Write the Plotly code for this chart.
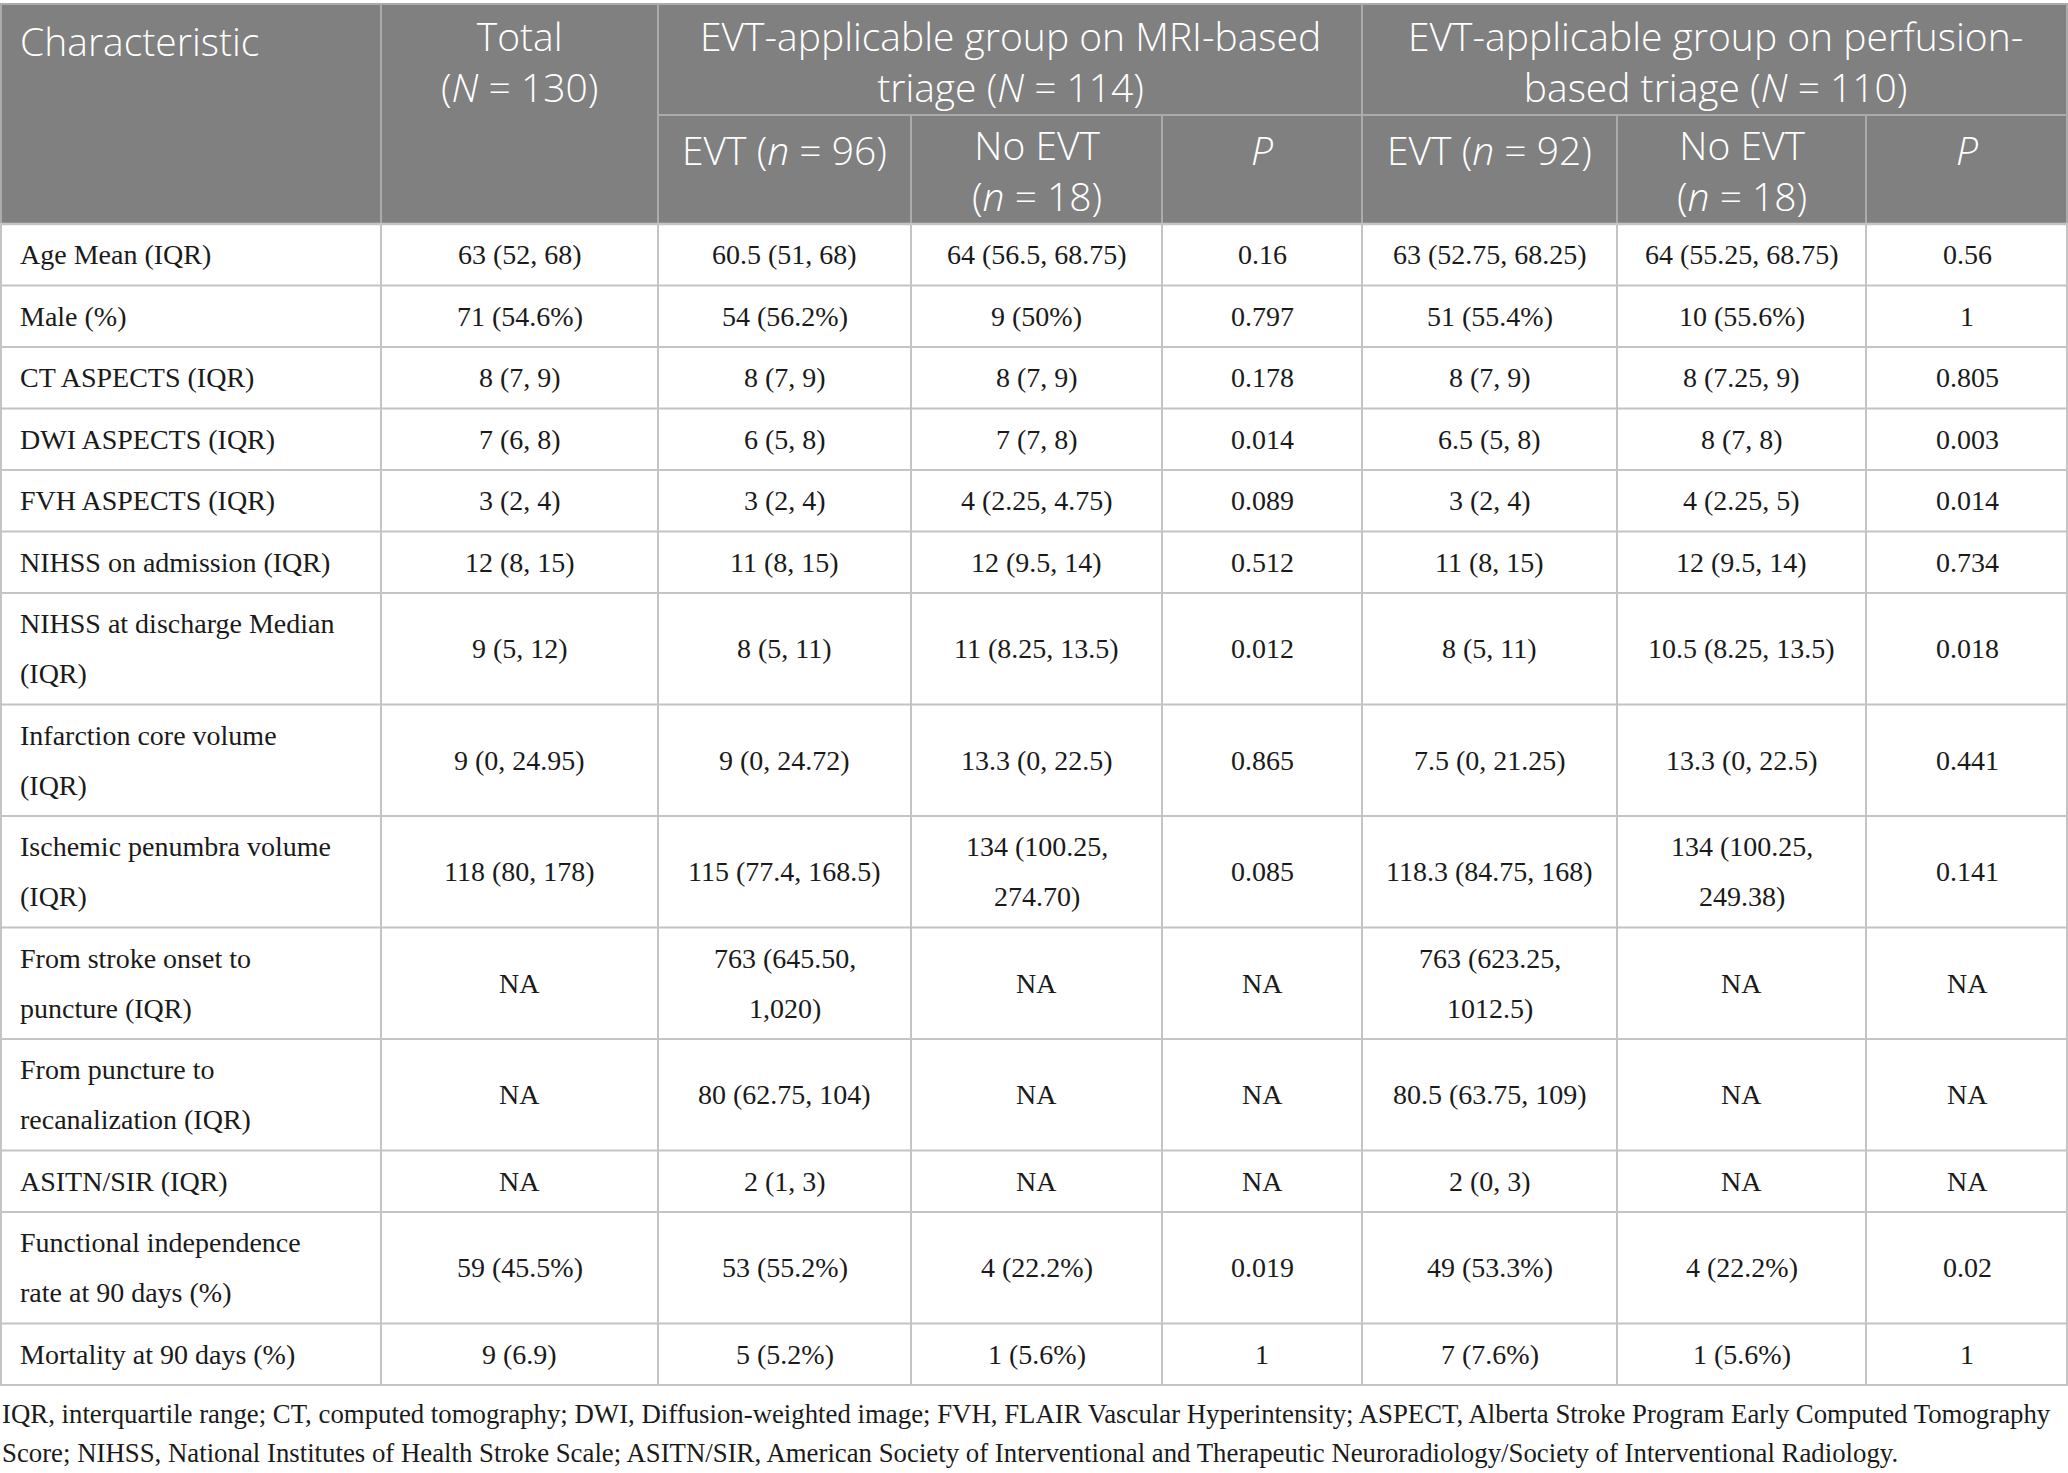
import plotly.graph_objects as go

# ---- table content ----
characteristics = ["Age Mean (IQR)", "Male (%)", "CT ASPECTS (IQR)", "DWI ASPECTS (IQR)",
                   "FVH ASPECTS (IQR)", "NIHSS on admission (IQR)",
                   "NIHSS at discharge Median<br>(IQR)", "Infarction core volume<br>(IQR)",
                   "Ischemic penumbra volume<br>(IQR)", "From stroke onset to<br>puncture (IQR)",
                   "From puncture to<br>recanalization (IQR)", "ASITN/SIR (IQR)",
                   "Functional independence<br>rate at 90 days (%)", "Mortality at 90 days (%)"]
total = ["63 (52, 68)", "71 (54.6%)", "8 (7, 9)", "7 (6, 8)", "3 (2, 4)", "12 (8, 15)",
         "9 (5, 12)", "9 (0, 24.95)", "118 (80, 178)", "NA", "NA", "NA", "59 (45.5%)", "9 (6.9)"]
mri_evt = ["60.5 (51, 68)", "54 (56.2%)", "8 (7, 9)", "6 (5, 8)", "3 (2, 4)", "11 (8, 15)",
           "8 (5, 11)", "9 (0, 24.72)", "115 (77.4, 168.5)", "763 (645.50,<br>1,020)",
           "80 (62.75, 104)", "2 (1, 3)", "53 (55.2%)", "5 (5.2%)"]
mri_no_evt = ["64 (56.5, 68.75)", "9 (50%)", "8 (7, 9)", "7 (7, 8)", "4 (2.25, 4.75)",
              "12 (9.5, 14)", "11 (8.25, 13.5)", "13.3 (0, 22.5)", "134 (100.25,<br>274.70)",
              "NA", "NA", "NA", "4 (22.2%)", "1 (5.6%)"]
mri_p = ["0.16", "0.797", "0.178", "0.014", "0.089", "0.512", "0.012", "0.865", "0.085",
         "NA", "NA", "NA", "0.019", "1"]
perf_evt = ["63 (52.75, 68.25)", "51 (55.4%)", "8 (7, 9)", "6.5 (5, 8)", "3 (2, 4)", "11 (8, 15)",
            "8 (5, 11)", "7.5 (0, 21.25)", "118.3 (84.75, 168)", "763 (623.25,<br>1012.5)",
            "80.5 (63.75, 109)", "2 (0, 3)", "49 (53.3%)", "7 (7.6%)"]
perf_no_evt = ["64 (55.25, 68.75)", "10 (55.6%)", "8 (7.25, 9)", "8 (7, 8)", "4 (2.25, 5)",
               "12 (9.5, 14)", "10.5 (8.25, 13.5)", "13.3 (0, 22.5)", "134 (100.25,<br>249.38)",
               "NA", "NA", "NA", "4 (22.2%)", "1 (5.6%)"]
perf_p = ["0.56", "1", "0.805", "0.003", "0.014", "0.734", "0.018", "0.441", "0.141",
          "NA", "NA", "NA", "0.02", "1"]

# header texts: (first col, last col, text)
header_top = [(0, 0, "Characteristic"),
              (1, 1, "Total<br>(<i>N</i> = 130)"),
              (2, 4, "EVT-applicable group on MRI-based<br>triage (<i>N</i> = 114)"),
              (5, 7, "EVT-applicable group on perfusion-<br>based triage (<i>N</i> = 110)")]
sub_headers = ["EVT (<i>n</i> = 96)", "No EVT<br>(<i>n</i> = 18)", "<i>P</i>",
               "EVT (<i>n</i> = 92)", "No EVT<br>(<i>n</i> = 18)", "<i>P</i>"]
footnote = ["IQR, interquartile range; CT, computed tomography; DWI, Diffusion-weighted image; "
            "FVH, FLAIR Vascular Hyperintensity; ASPECT, Alberta Stroke Program Early Computed Tomography",
            "Score; NIHSS, National Institutes of Health Stroke Scale; ASITN/SIR, American Society of "
            "Interventional and Therapeutic Neuroradiology/Society of Interventional Radiology."]

columns = [characteristics, total, mri_evt, mri_no_evt, mri_p, perf_evt, perf_no_evt, perf_p]

# ---- geometry / style (pixels) ----
W, H = 2068, 1473
col_edges = [0, 381, 658, 911, 1162, 1362, 1617, 1866, 2068]
y_top, y_mid, y_head = 4, 115, 224
row_base, line_step = 61.5, 50
head_first = 40          # centre of the first header line below a header edge
head_step = 42
pad_left = 18
HEAD_BG = "#808080"
HEAD_LINE = "#ababab"
GRID = "#c4c4c4"
body_font = dict(family="Liberation Serif", size=28, color="#1a1a1a")
head_font = dict(family="Open Sans", size=39, color="white", weight=300)
foot_font = dict(family="Liberation Serif", size=26.8, color="#1a1a1a")

n_lines = [max(len(str(c[i]).split("<br>")) for c in columns) for i in range(len(characteristics))]
row_edges = [y_head]
for n in n_lines:
    row_edges.append(row_edges[-1] + row_base + line_step * (n - 1))

fig = go.Figure()
shapes, annotations = [], []


def hline(y, x0, x1, color, width=2):
    shapes.append(dict(type="line", x0=x0, x1=x1, y0=y, y1=y, line=dict(color=color, width=width)))


def vline(x, y0, y1, color, width=2):
    shapes.append(dict(type="line", x0=x, x1=x, y0=y0, y1=y1, line=dict(color=color, width=width)))


def put_lines(text, x, y_first, step, font, anchor):
    # one annotation per line so the line spacing follows the table, not the font
    for k, line in enumerate(text.split("<br>")):
        annotations.append(dict(x=x, y=y_first + k * step, text=line, showarrow=False,
                                xanchor=anchor, yanchor="middle", font=font))


def put_block(text, x, y_first, step, font, anchor):
    # header cells: one annotation, centred on where its lines should sit
    k = len(text.split("<br>"))
    annotations.append(dict(x=x, y=y_first + step * (k - 1) / 2, text=text, showarrow=False,
                            xanchor=anchor, yanchor="middle", align=anchor, font=font))


# header background and lines
shapes.append(dict(type="rect", x0=0, x1=W, y0=y_top, y1=y_head, fillcolor=HEAD_BG,
                   line=dict(width=0), layer="below"))
hline(y_top, 0, W, HEAD_LINE)
hline(y_mid, col_edges[2], W, HEAD_LINE)
for x in (col_edges[1], col_edges[2], col_edges[5]):
    vline(x, y_top, y_head, HEAD_LINE)
for x in (col_edges[3], col_edges[4], col_edges[6], col_edges[7]):
    vline(x, y_mid, y_head, HEAD_LINE)
vline(1, y_top, y_head, HEAD_LINE)
vline(W - 1, y_top, y_head, HEAD_LINE)

for c0, c1, text in header_top:
    if c0 == 0:
        put_block(text, pad_left, y_top + head_first - 4, head_step, head_font, "left")
    else:
        put_block(text, (col_edges[c0] + col_edges[c1 + 1]) / 2, y_top + head_first - 4,
                  head_step, head_font, "center")
for j, text in enumerate(sub_headers):
    c = j + 2
    put_block(text, (col_edges[c] + col_edges[c + 1]) / 2, y_mid + head_first - 6,
              head_step, head_font, "center")

# body grid
for y in row_edges:
    hline(y, 0, W, GRID, 2.5 if y == y_head else 2)
for x in col_edges[1:-1]:
    vline(x, y_head, row_edges[-1], GRID)
vline(1, y_head, row_edges[-1], GRID)
vline(W - 1, y_head, row_edges[-1], GRID)

# body text
for i in range(len(characteristics)):
    yc = (row_edges[i] + row_edges[i + 1]) / 2
    for c, col in enumerate(columns):
        text = col[i]
        k = len(text.split("<br>"))
        y_first = yc - line_step * (k - 1) / 2
        if c == 0:
            put_lines(text, pad_left, y_first, line_step, body_font, "left")
        else:
            put_lines(text, (col_edges[c] + col_edges[c + 1]) / 2, y_first, line_step, body_font, "center")

# footnote
put_lines("<br>".join(footnote), 0, row_edges[-1] + 29, 39, foot_font, "left")

fig.update_layout(width=W, height=H, margin=dict(l=0, r=0, t=0, b=0),
                  paper_bgcolor="white", plot_bgcolor="white",
                  shapes=shapes, annotations=annotations, showlegend=False)
fig.update_xaxes(range=[0, W], visible=False, fixedrange=True)
fig.update_yaxes(range=[H, 0], visible=False, fixedrange=True)

# page body has a default 8px margin, drop it so the figure fills the window
fig.write_html("out.html", config={"displayModeBar": False},
               post_script="document.body.style.margin = '0';")
